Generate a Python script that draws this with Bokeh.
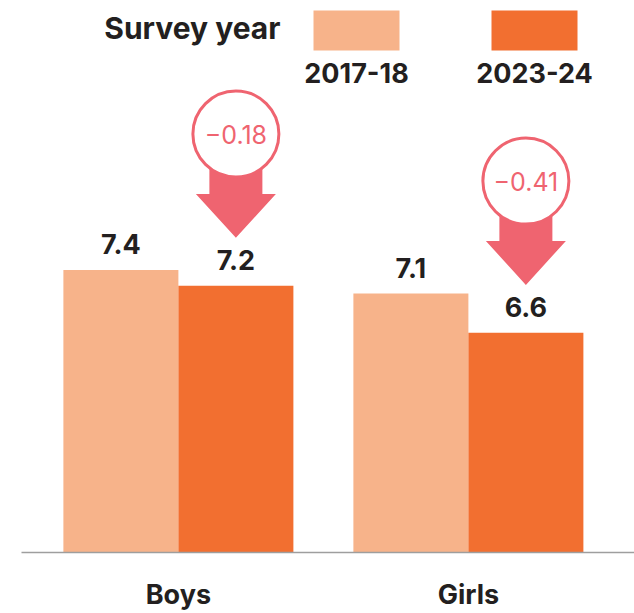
from bokeh.plotting import figure
from bokeh.models import Range1d, FixedTicker
from bokeh.embed import file_html
from bokeh.resources import INLINE
from bokeh.core.properties import value

# ---- data ----
categories = ["Boys", "Girls"]
years = ["2017-18", "2023-24"]
values_2017 = [7.4, 7.1]
values_2023 = [7.2, 6.6]
labels_2017 = ["7.4", "7.1"]
labels_2023 = ["7.2", "6.6"]
change_labels = ["\u22120.18", "\u22120.41"]
legend_title = "Survey year"

# ---- style ----
LIGHT = "#F7B38A"
DARK = "#F26F30"
CORAL = "#EF6470"
INK = "#231F20"
FONT = "Inter"
BASE_FIX = 11  # px: rendered alphabetic baseline sits lower than requested

W, H = 634, 613
ML, MB = 21, 60
FW, FH = W - ML, H - MB
PPX = 290.0
X0 = -0.541
X1 = X0 + FW / PPX
PPY = 78.6
Y0 = 3.8
Y1 = Y0 + FH / PPY


def dx(px):
    return px / PPX


def dy(px):
    return px / PPY


def sx(page_x):
    return X0 + (page_x - ML) / PPX


def sy(page_y):
    return Y0 + (FH - page_y) / PPY


p = figure(width=W, height=H, output_backend="svg", toolbar_location=None,
           x_range=Range1d(X0, X1), y_range=Range1d(Y0, Y1),
           y_axis_location=None, min_border_left=ML, min_border_right=0,
           min_border_top=0, min_border_bottom=MB)
p.outline_line_color = None
p.xgrid.visible = False
p.ygrid.visible = False
p.background_fill_color = "white"
p.border_fill_color = "white"

BW = 115.0 / PPX
xs = list(range(len(categories)))
x17 = [i - BW / 2 for i in xs]
x23 = [i + BW / 2 for i in xs]

p.vbar(x=x17, top=values_2017, bottom=Y0, width=BW, fill_color=LIGHT, line_color=None)
p.vbar(x=x23, top=values_2023, bottom=Y0, width=BW, fill_color=DARK, line_color=None)

# value labels
p.text(x=x17, y=[v + dy(15 + BASE_FIX) for v in values_2017], text=labels_2017,
       text_align="center", text_baseline="alphabetic", text_font=value(FONT),
       text_font_size="27px", text_font_style="bold", text_color=INK)
p.text(x=x23, y=[v + dy(15 + BASE_FIX) for v in values_2023], text=labels_2023,
       text_align="center", text_baseline="alphabetic", text_font=value(FONT),
       text_font_size="27px", text_font_style="bold", text_color=INK)

# change arrows
pxs, pys, cx, cy = [], [], [], []
for xc, v in zip(x23, values_2023):
    tip = v + dy(48)
    head_top = tip + dy(44)
    stem_top = tip + dy(104)
    hw, sw = dx(40), dx(26.5)
    pxs.append([xc - sw, xc + sw, xc + sw, xc + hw, xc, xc - hw, xc - sw])
    pys.append([stem_top, stem_top, head_top, head_top, tip, head_top, head_top])
    cx.append(xc)
    cy.append(stem_top)
p.patches(xs=pxs, ys=pys, fill_color=CORAL, line_color=None)
p.scatter(x=cx, y=cy, marker="circle", size=86, fill_color="white",
          line_color=CORAL, line_width=3)
p.text(x=cx, y=cy, text=change_labels, text_align="center", text_baseline="middle",
       text_font=value(FONT), text_font_size="25px", text_color=CORAL)

# legend
p.text(x=[sx(280)], y=[sy(38.5 - BASE_FIX)], text=[legend_title], text_align="right",
       text_baseline="alphabetic", text_font=value(FONT), text_font_size="30px",
       text_font_style="bold", text_color=INK)
p.quad(left=[sx(313), sx(491)], right=[sx(399), sx(577)], top=[sy(10), sy(10)],
       bottom=[sy(50), sy(50)], fill_color=[LIGHT, DARK], line_color=None)
p.text(x=[sx(356), sx(534)], y=[sy(83.3 - BASE_FIX)] * 2, text=years, text_align="center",
       text_baseline="alphabetic", text_font=value(FONT), text_font_size="27px",
       text_font_style="bold", text_color=INK)

# axis
ax = p.xaxis[0]
ax.ticker = FixedTicker(ticks=xs)
ax.major_label_overrides = {i: c for i, c in zip(xs, categories)}
ax.axis_line_color = "#9E9E9E"
ax.axis_line_width = 1.5
ax.major_tick_line_color = None
ax.minor_tick_line_color = None
ax.major_label_text_font = FONT
ax.major_label_text_font_size = "27px"
ax.major_label_text_font_style = "bold"
ax.major_label_text_color = INK
ax.major_label_standoff = 19

open("out.html", "w").write(file_html(p, INLINE))
